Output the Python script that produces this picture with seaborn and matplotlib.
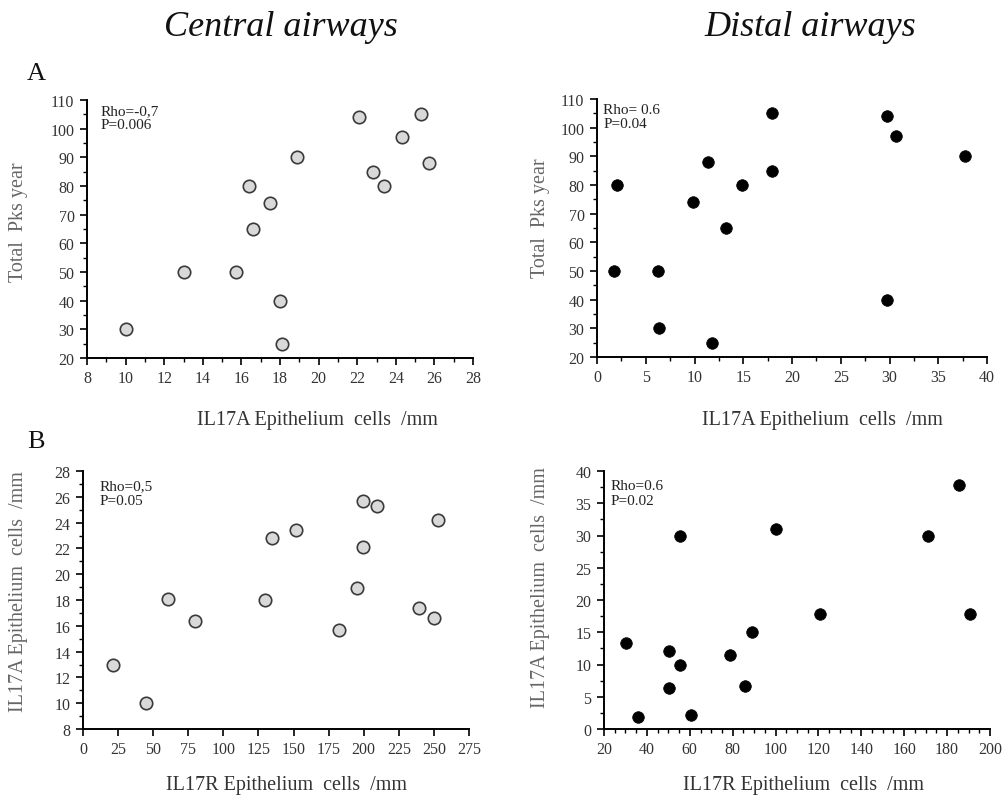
import matplotlib
matplotlib.use("Agg")
import matplotlib.pyplot as plt
from matplotlib.ticker import MultipleLocator
import seaborn as sns
import pandas as pd

# ---------------- data ----------------
# A: Central airways (IL17A epithelium cells/mm vs Total Pks year)
a_central_x = [10.0, 13.0, 15.7, 16.4, 16.6, 17.5, 18.0, 18.1, 18.9, 22.1, 22.8, 23.4, 24.3, 25.3, 25.7]
a_central_y = [30, 50, 50, 80, 65, 74, 40, 25, 90, 104, 85, 80, 97, 105, 88]
# A: Distal airways
a_distal_x = [1.7, 2.0, 6.3, 6.4, 9.8, 11.4, 11.8, 13.2, 14.9, 17.9, 17.9, 29.7, 29.7, 30.7, 37.7]
a_distal_y = [50, 80, 50, 30, 74, 88, 25, 65, 80, 105, 85, 104, 40, 97, 90]
# B: Central airways (IL17R vs IL17A epithelium cells/mm)
b_central_x = [21.4, 44.9, 60.6, 79.6, 129.7, 134.6, 151.7, 182.4, 195.4, 199.5, 199.5, 209.7, 239.6, 249.8, 252.9]
b_central_y = [13.0, 10.0, 18.1, 16.4, 18.0, 22.8, 23.4, 15.7, 18.9, 25.7, 22.1, 25.3, 17.4, 16.6, 24.2]
# B: Distal airways
b_distal_x = [30.4, 35.7, 50.5, 50.5, 55.6, 55.6, 60.6, 78.6, 85.7, 88.9, 100.4, 120.5, 171.2, 185.5, 190.5]
b_distal_y = [13.3, 1.9, 12.1, 6.4, 29.9, 9.9, 2.1, 11.4, 6.6, 15.0, 31.0, 17.9, 29.9, 37.8, 17.9]

column_titles = ["Central airways", "Distal airways"]
row_letters = ["A", "B"]
stats = ["Rho=-0,7\nP=0.006", "Rho= 0.6\nP=0.04", "Rho=0,5\nP=0.05", "Rho=0.6\nP=0.02"]
xlabels = ["IL17A Epithelium  cells  /mm", "IL17A Epithelium  cells  /mm",
           "IL17R Epithelium  cells  /mm", "IL17R Epithelium  cells  /mm"]
ylabels = ["Total  Pks year", "Total  Pks year",
           "IL17A Epithelium  cells  /mm", "IL17A Epithelium  cells  /mm"]

# ---------------- style ----------------
sns.set_style("ticks")
plt.rcParams["font.family"] = ["Liberation Serif", "DejaVu Serif"]

fig = plt.figure(figsize=(10.04, 8.03), dpi=100)

W, H = 1004, 803
def axrect(x0, x1, ytop, ybot):
    return [x0 / W, 1 - ybot / H, (x1 - x0) / W, (ybot - ytop) / H]

rects = [axrect(87, 473, 101, 359), axrect(597, 987, 100, 358),
         axrect(83, 469, 472, 730), axrect(604, 990, 472, 730)]

panels = [
    (a_central_x, a_central_y, "light"),
    (a_distal_x, a_distal_y, "dark"),
    (b_central_x, b_central_y, "light"),
    (b_distal_x, b_distal_y, "dark"),
]
limits = [((8, 28), (20, 110)), ((0, 40), (20, 110)), ((0, 275), (8, 28)), ((20, 200), (0, 40))]
majors = [(2, 10), (5, 10), (25, 2), (20, 5)]
minors = [(1, 5), (2.5, 5), (None, 1), (5, 2.5)]
xlab_pos = [(0.596, -0.200), (0.577, -0.205), (0.526, -0.178), (0.518, -0.180)]
ylab_pos = [(-0.153, 0.531), (-0.120, 0.542), (-0.142, 0.535), (-0.140, 0.554)]
stat_pos = [(0.034, 0.985), (0.016, 0.985), (0.044, 0.968), (0.018, 0.968)]

for i, (xs, ys, kind) in enumerate(panels):
    ax = fig.add_axes(rects[i])
    df = pd.DataFrame({"x": xs, "y": ys})
    if kind == "light":
        sns.scatterplot(data=df, x="x", y="y", ax=ax, s=80, color="#d9d9d9",
                        edgecolor="#3a3a3a", linewidth=1.2, zorder=3, clip_on=False)
    else:
        sns.scatterplot(data=df, x="x", y="y", ax=ax, s=70, color="black",
                        edgecolor="black", linewidth=0.5, zorder=3, clip_on=False)
    (xl, yl) = limits[i]
    ax.set_xlim(*xl)
    ax.set_ylim(*yl)
    ax.xaxis.set_major_locator(MultipleLocator(majors[i][0]))
    ax.yaxis.set_major_locator(MultipleLocator(majors[i][1]))
    if minors[i][0] is not None:
        ax.xaxis.set_minor_locator(MultipleLocator(minors[i][0]))
    ax.yaxis.set_minor_locator(MultipleLocator(minors[i][1]))
    sns.despine(ax=ax)
    for s in ("left", "bottom"):
        ax.spines[s].set_linewidth(1.4)
        ax.spines[s].set_color("black")
    ax.tick_params(which="major", direction="out", length=5, width=1.2, color="black",
                   labelsize=11.5, labelcolor="#333333", pad=4)
    ax.tick_params(which="minor", direction="out", length=3, width=1.0, color="black")
    ax.set_xlabel(xlabels[i], fontsize=14.5, color="#333333")
    ax.set_ylabel(ylabels[i], fontsize=14.5, color="#666666")
    ax.xaxis.set_label_coords(*xlab_pos[i])
    ax.yaxis.set_label_coords(*ylab_pos[i])
    ax.text(stat_pos[i][0], stat_pos[i][1], stats[i], transform=ax.transAxes,
            ha="left", va="top", fontsize=11, color="#222222", linespacing=1.15)
    ax.set_facecolor("white")

fig.text(281 / W, 1 - 27 / H, column_titles[0], ha="center", va="center",
         fontsize=26, style="italic", color="#111111")
fig.text(810 / W, 1 - 27 / H, column_titles[1], ha="center", va="center",
         fontsize=26, style="italic", color="#111111")
fig.text(27 / W, 1 - 74 / H, row_letters[0], ha="left", va="center", fontsize=19, color="#111111")
fig.text(27 / W, 1 - 442 / H, row_letters[1], ha="left", va="center", fontsize=19, color="#111111")

fig.savefig("out.png", dpi=100, facecolor="white")
